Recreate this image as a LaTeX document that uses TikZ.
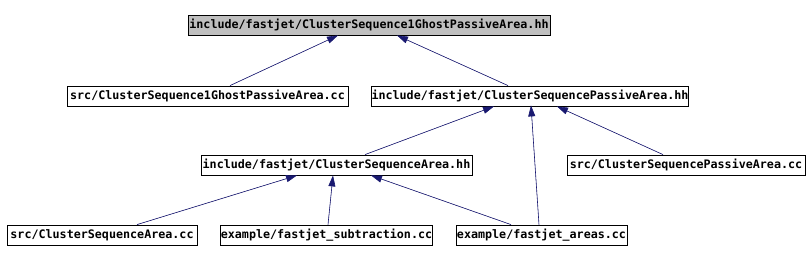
\documentclass[tikz,border=0pt]{standalone}
\usepackage{fontspec}
\setmonofont{DejaVu Sans Mono}
\usepackage{tikz}
\usetikzlibrary{arrows.meta, positioning}
\definecolor{edgeblue}{HTML}{191970}
\definecolor{rootgray}{HTML}{BFBFBF}

\begin{document}
\begin{tikzpicture}[x=1pt, y=-1pt,
file/.style={rectangle, draw=black, fill=white, line width=0.8pt, minimum height=20pt, inner sep=0pt, font=\ttfamily\bfseries\fontsize{11.7}{12}\selectfont},
root/.style={file, fill=rootgray},
dep/.style={{Triangle[length=11pt, width=7pt]}-, draw=edgeblue, fill=edgeblue, line width=0.6pt}
]
\useasboundingbox (0,0) rectangle (809,262);
% Define the nodes for each header and source file
\node[root, minimum width=362pt] (ghosthh) at (369,25) {include/fastjet/ClusterSequence1GhostPassiveArea.hh};
\node[file, minimum width=281pt] (ghostcc) at (207.5,96) {src/ClusterSequence1GhostPassiveArea.cc};
\node[file, minimum width=316pt] (passivehh) at (530,96) {include/fastjet/ClusterSequencePassiveArea.hh};
\node[file, minimum width=271pt] (areahh) at (336.5,165) {include/fastjet/ClusterSequenceArea.hh};
\node[file, minimum width=238pt] (passivecc) at (686,165) {src/ClusterSequencePassiveArea.cc};
\node[file, minimum width=190pt] (areacc) at (102,235) {src/ClusterSequenceArea.cc};
\node[file, minimum width=211pt] (subtraction) at (326.5,235) {example/fastjet\_subtraction.cc};
\node[file, minimum width=171pt] (areas) at (541.5,235) {example/fastjet\_areas.cc};
% Draw the include edges (arrow at the included file)
\draw[dep] ([xshift=-31pt]ghosthh.south) -- ([xshift=22.5pt]ghostcc.north);
\draw[dep] ([xshift=28pt]ghosthh.south) -- ([xshift=-22pt]passivehh.north);
\draw[dep] ([xshift=-36pt]passivehh.south) -- ([xshift=28.5pt]areahh.north);
\draw[dep] ([xshift=1pt, yshift=1pt]passivehh.south) -- ([xshift=-2.5pt]areas.north);
\draw[dep] ([xshift=27pt]passivehh.south) -- ([xshift=-23pt]passivecc.north);
\draw[dep] ([xshift=-39.5pt]areahh.south) -- ([xshift=35pt]areacc.north);
\draw[dep] ([xshift=-3.5pt]areahh.south) -- ([xshift=1.5pt]subtraction.north);
\draw[dep] ([xshift=34.5pt]areahh.south) -- ([xshift=-30.5pt]areas.north);
\end{tikzpicture}
\end{document}
